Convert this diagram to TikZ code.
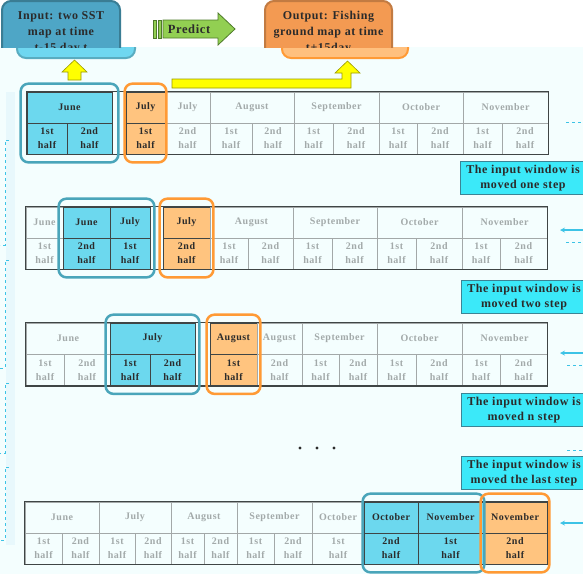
\documentclass[tikz,border=0pt]{standalone}
\usepackage{fontspec}
\setmainfont{Liberation Serif}[LetterSpace=5]
\usetikzlibrary{positioning,fit}
\definecolor{winblue}{HTML}{4AA5BA}
\definecolor{cellblue}{HTML}{6CD8EE}
\definecolor{winorange}{HTML}{FF9A35}
\definecolor{cellorange}{HTML}{FFC47F}
\definecolor{fadedtext}{HTML}{A3AAAA}
\definecolor{darktext}{HTML}{2B2B2B}
\definecolor{gridgray}{HTML}{A3A8A8}
\definecolor{framegray}{HTML}{3F4545}
\definecolor{notecyan}{HTML}{3BE9F9}
\definecolor{paleback}{HTML}{F4FEFE}
\definecolor{predictgreen}{HTML}{92CF52}
\definecolor{darkgreen}{HTML}{4E7A2A}
\definecolor{hintcyan}{HTML}{3CC3E6}
\definecolor{inputdark}{HTML}{4EA6C6}
\definecolor{inputlight}{HTML}{6FD7F0}
\definecolor{outputdark}{HTML}{F39A52}
\definecolor{outputlight}{HTML}{FFC07E}
\definecolor{arrowyellow}{HTML}{FFFF00}

\begin{document}
\begin{tikzpicture}[x=1pt, y=-1pt,
    cell/.style={draw=gridgray, line width=0.8pt, minimum height=31, inner sep=0pt,
                 align=center, text=fadedtext, font=\bfseries\fontsize{10}{14}\selectfont},
    lo/.style={},
    hiB/.style={fill=cellblue, draw=framegray, text=darktext},
    hiO/.style={fill=cellorange, draw=framegray, text=darktext},
    frame/.style={draw=framegray, line width=1.6pt},
    winB/.style={draw=winblue, line width=2.5pt, rounded corners=8pt, inner xsep=4pt, inner ysep=8pt},
    winO/.style={draw=winorange, line width=2.5pt, rounded corners=8pt, inner xsep=3pt, inner ysep=8pt},
    stepnote/.style={fill=notecyan, draw=winblue!80!black, line width=0.6pt, minimum width=126,
                     minimum height=30, align=center, text=darktext,
                     font=\bfseries\fontsize{12}{15}\selectfont},
    topbox/.style={rounded corners=9pt, line width=2pt, align=center,
                   text=darktext, font=\bfseries\fontsize{12}{16}\selectfont},
    yellowarrow/.style={fill=arrowyellow, draw=arrowyellow!60!black, line width=0.6pt},
    hint/.style={draw=hintcyan, line width=0.8pt, dashed},
    hintarrow/.style={draw=hintcyan, line width=1.2pt, -stealth},
]
\useasboundingbox (0,0) rectangle (583,574);

% Hintergrund
\fill[white] (0,0) rectangle (583,47);
\fill[paleback] (0,47) rectangle (583,574);
\fill[hintcyan!12] (6,92) rectangle (15,545);

% Kopfzeile: Eingabe, Predict, Ausgabe
\begin{scope}
  \clip (0,47) rectangle (583,70);
  \node[topbox, fill=inputlight, draw=inputlight!80!black, minimum width=118, minimum height=57] (inlow) at (76,29.5) {};
  \node[topbox, fill=outputlight, draw=winorange, minimum width=126, minimum height=57] (outlow) at (345,29.5) {};
\end{scope}
\begin{scope}
  \clip (0,0) rectangle (583,47);
  \node[topbox, fill=inputdark, draw=inputdark!75!black, minimum width=118, minimum height=63] (input) at (61,32.5)
    {Input: two SST\\map at time\\t-15 day,t};
  \node[topbox, fill=outputdark, draw=outputdark!80!black, minimum width=127, minimum height=63] (output) at (328.5,32.5)
    {Output: Fishing\\ground map at time\\t+15day};
\end{scope}

\foreach \x in {153,158}
  \draw[fill=predictgreen, draw=darkgreen, line width=0.8pt] (\x,20) rectangle (\x+3,38);
\draw[fill=predictgreen, draw=darkgreen, line width=0.8pt]
  (163,20) -- (218,20) -- (218,13) -- (235,29) -- (218,45) -- (218,38) -- (163,38) -- cycle;
\node[font=\bfseries\fontsize{12.5}{14}\selectfont, text=darktext] (predict) at (189,29) {Predict};

% gelbe Pfeile
\draw[yellowarrow] (68,80) -- (68,72) -- (62,72) -- (74.5,60) -- (87,72) -- (81,72) -- (81,80) -- cycle;
\draw[yellowarrow] (172,79) -- (342,79) -- (342,73) -- (335,73) -- (347.5,61) -- (360,73)
  -- (351,73) -- (351,88) -- (172,88) -- cycle;

% Zeile 1
\foreach \a/\b/\t/\s [count=\i] in {27/112/June/hiB, 126/165/July/hiO, 165/210/July/lo,
    210/294/August/lo, 294/379/September/lo, 379/463/October/lo, 463/548/November/lo}
  \node[cell, style=\s, minimum width={\b-\a}] (r1m\i) at ({(\a+\b)/2},107.5) {\t};
\foreach \a/\b/\t/\s [count=\i] in {27/67/1st/hiB, 67/112/2nd/hiB, 126/165/1st/hiO,
    165/210/2nd/lo, 210/252/1st/lo, 252/294/2nd/lo, 294/333/1st/lo, 333/379/2nd/lo,
    379/417/1st/lo, 417/463/2nd/lo, 463/502/1st/lo, 502/548/2nd/lo}
  \node[cell, style=\s, minimum width={\b-\a}] (r1s\i) at ({(\a+\b)/2},138.5) {\t\\half};
\draw[frame] (r1m1.north west) rectangle (r1s12.south east);
\node[winB, inner xsep=6pt, fit=(r1m1)(r1s2)] (r1in) {};
\node[winO, inner xsep=1pt, fit=(r1m2)(r1s3)] (r1out) {};

% Zeile 2
\foreach \a/\b/\t/\s [count=\i] in {26/63/June/lo, 63/110/June/hiB, 110/150/July/hiB,
    163/210/July/hiO, 210/293/August/lo, 293/377/September/lo, 377/462/October/lo,
    462/547/November/lo}
  \node[cell, style=\s, minimum width={\b-\a}] (r2m\i) at ({(\a+\b)/2},222.5) {\t};
\foreach \a/\b/\t/\s [count=\i] in {26/63/1st/lo, 63/110/2nd/hiB, 110/150/1st/hiB,
    163/210/2nd/hiO, 210/248/1st/lo, 248/293/2nd/lo, 293/332/1st/lo, 332/377/2nd/lo,
    377/416/1st/lo, 416/462/2nd/lo, 462/500/1st/lo, 500/547/2nd/lo}
  \node[cell, style=\s, minimum width={\b-\a}] (r2s\i) at ({(\a+\b)/2},253.5) {\t\\half};
\draw[frame] (r2m1.north west) rectangle (r2s12.south east);
\node[winB, fit=(r2m2)(r2m3)(r2s2)(r2s3)] (r2in) {};
\node[winO, fit=(r2m4)(r2s4)] (r2out) {};

% Zeile 3
\foreach \a/\b/\t/\s [count=\i] in {26/110/June/lo, 110/195/July/hiB, 210/257/August/hiO,
    257/302/August/lo, 302/377/September/lo, 377/462/October/lo, 462/547/November/lo}
  \node[cell, style=\s, minimum width={\b-\a}] (r3m\i) at ({(\a+\b)/2},338.5) {\t};
\foreach \a/\b/\t/\s [count=\i] in {26/64/1st/lo, 64/110/2nd/lo, 110/150/1st/hiB,
    150/195/2nd/hiB, 210/257/1st/hiO, 257/302/2nd/lo, 302/339/1st/lo, 339/377/2nd/lo,
    377/416/1st/lo, 416/462/2nd/lo, 462/500/1st/lo, 500/547/2nd/lo}
  \node[cell, style=\s, minimum width={\b-\a}] (r3s\i) at ({(\a+\b)/2},370) {\t\\half};
\draw[frame] (r3m1.north west) rectangle (r3s12.south east);
\node[winB, fit=(r3m2)(r3s3)(r3s4)] (r3in) {};
\node[winO, fit=(r3m3)(r3s5)] (r3out) {};

% Punkte
\foreach \x in {300,317,334}
  \fill[darktext] (\x,448) circle (1.6);

% Zeile 4
\foreach \a/\b/\t/\s [count=\i] in {25/99/June/lo, 99/171/July/lo, 171/237/August/lo,
    237/312/September/lo, 312/364/October/lo, 364/418/October/hiB, 418/483/November/hiB,
    483/547/November/hiO}
  \node[cell, style=\s, minimum width={\b-\a}] (r4m\i) at ({(\a+\b)/2},517.5) {\t};
\foreach \a/\b/\t/\s [count=\i] in {25/62/1st/lo, 62/99/2nd/lo, 99/135/1st/lo,
    135/171/2nd/lo, 171/204/1st/lo, 204/237/2nd/lo, 237/274/1st/lo, 274/312/2nd/lo,
    312/364/1st/lo, 364/418/2nd/hiB, 418/483/1st/hiB, 483/547/2nd/hiO}
  \node[cell, style=\s, minimum width={\b-\a}] (r4s\i) at ({(\a+\b)/2},548.5) {\t\\half};
\draw[frame] (r4m1.north west) rectangle (r4s12.south east);
\node[winB, inner xsep=1pt, fit=(r4m6)(r4m7)(r4s10)(r4s11)] (r4in) {};
\node[winO, inner xsep=2pt, fit=(r4m8)(r4s12)] (r4out) {};

% Hinweise rechts
\node[stepnote] (note1) at (523,178) {The input window is\\moved one step};
\node[stepnote] (note2) at (524,297) {The input window is\\moved two step};
\node[stepnote] (note3) at (524,410) {The input window is\\moved n step};
\node[stepnote] (note4) at (524,473) {The input window is\\moved the last step};

% Pfeile und Linien am Rand
\coordinate (h1a) at (566,122); \coordinate (h1b) at (583,122);
\coordinate (h2a) at (566,242); \coordinate (h2b) at (583,242);
\coordinate (h3a) at (567,365); \coordinate (h3b) at (583,365);
\coordinate (h4a) at (567,450); \coordinate (h4b) at (583,450);
\foreach \n in {1,...,4}
  \draw[hint] (h\n a) -- (h\n b);
\foreach \y [count=\n] in {230,353,523} {
  \coordinate (p\n a) at (583,\y);
  \coordinate (p\n b) at (560,\y);
  \draw[hintarrow] (p\n a) -- (p\n b);
}
\foreach \t/\b [count=\n] in {140/245, 260/368, 383/453, 467/540} {
  \coordinate (b\n a) at (9,\t);
  \coordinate (b\n b) at (0,\b);
  \draw[hint] (b\n a) -- (5,\t) -- (5,\b) -- (b\n b);
}

\end{tikzpicture}
\end{document}
